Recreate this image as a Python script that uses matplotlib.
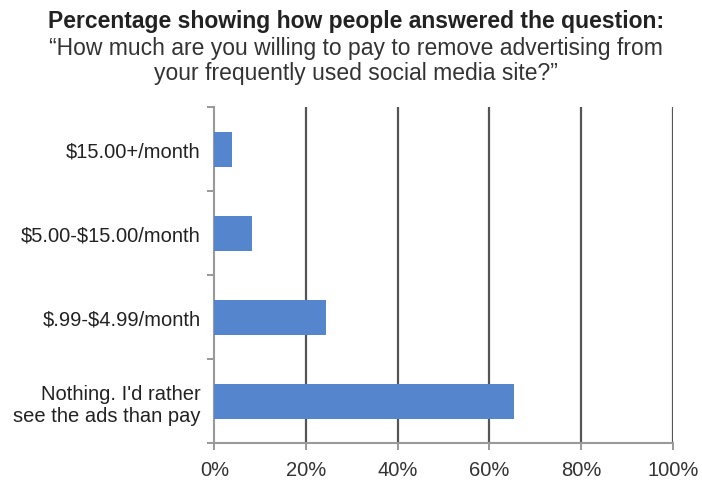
import matplotlib.pyplot as plt
import numpy as np

# survey answers, top to bottom
answers = ["\\$15.00+/month", "\\$5.00-\\$15.00/month", "\\$.99-\\$4.99/month",
           "Nothing. I'd rather\nsee the ads than pay"]
shares = [3.9, 8.2, 24.3, 65.4]
x_ticks = [0, 20, 40, 60, 80, 100]
x_labels = ["0%", "20%", "40%", "60%", "80%", "100%"]

plt.rcParams['font.family'] = ['Liberation Sans', 'DejaVu Sans']

fig = plt.figure(figsize=(7.02, 4.81), dpi=100)
ax = fig.add_axes([0.3053, 0.0763, 0.6530, 0.6985])

pos = np.arange(len(answers))
ax.barh(pos, shares, height=0.41, color='#5585CD', zorder=3)
ax.set_ylim(len(answers) - 0.5, -0.5)
ax.set_xlim(0, 100)

# dark vertical gridlines
for v in x_ticks[1:]:
    ax.axvline(v, color='#555555', lw=1.6, zorder=1)

ax.set_xticks(x_ticks)
ax.set_xticklabels(x_labels, fontsize=14.5, color='#333333')
ax.tick_params(axis='x', length=5, width=1.2, color='#888888', pad=7)

# category labels between boundary ticks
ax.set_yticks(pos)
ax.set_yticklabels(answers, fontsize=14.5, color='#222222', ha='right')
ax.tick_params(axis='y', length=0, pad=10)
ax.set_yticks(np.arange(-0.5, len(answers) + 0.5), minor=True)
ax.tick_params(axis='y', which='minor', length=5, width=1.2, color='#888888')

for side in ['top', 'right']:
    ax.spines[side].set_visible(False)
for side in ['left', 'bottom']:
    ax.spines[side].set_color('#999999')
    ax.spines[side].set_linewidth(1.5)

fig.text(0.507, 0.941, "Percentage showing how people answered the question:",
         ha='center', va='baseline', fontsize=16.5, fontweight='bold', color='#222222')
fig.text(0.507, 0.886, "\u201cHow much are you willing to pay to remove advertising from",
         ha='center', va='baseline', fontsize=16.5, color='#333333')
fig.text(0.507, 0.834, "your frequently used social media site?\u201d",
         ha='center', va='baseline', fontsize=16.5, color='#333333')

fig.savefig('out.png', dpi=100, facecolor='white')
